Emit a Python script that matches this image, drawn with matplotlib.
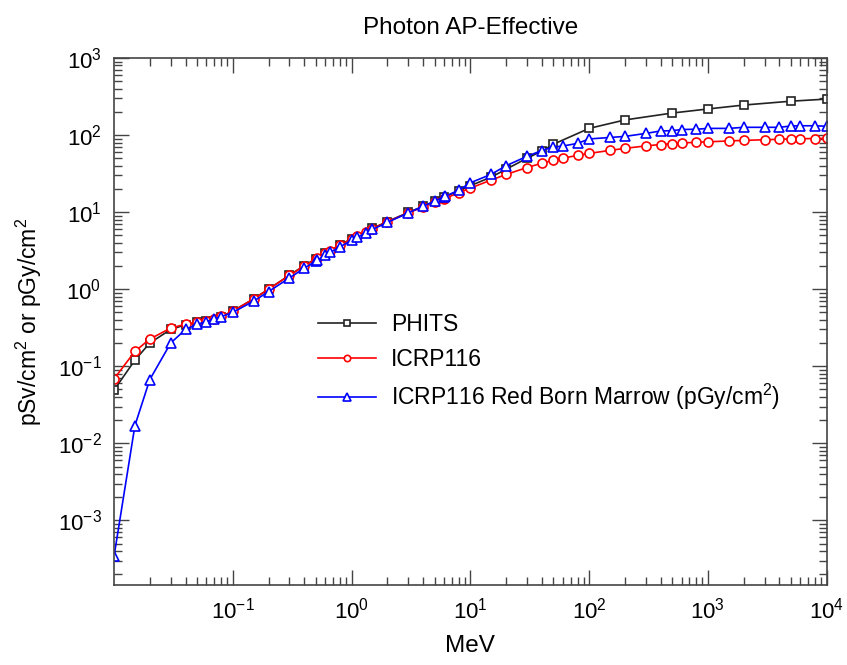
import matplotlib
matplotlib.use("Agg")
import matplotlib.pyplot as plt
from matplotlib.ticker import LogLocator, NullFormatter

plt.rcParams['font.family'] = ['Liberation Sans', 'DejaVu Sans']
plt.rcParams['mathtext.fontset'] = 'custom'
plt.rcParams['mathtext.rm'] = 'Liberation Sans'

# ICRP116 energy grid (MeV)
icrp_e = [0.01, 0.015, 0.02, 0.03, 0.04, 0.05, 0.06, 0.07, 0.08, 0.1,
          0.15, 0.2, 0.3, 0.4, 0.5, 0.511, 0.6, 0.662, 0.8, 1.0,
          1.117, 1.33, 1.5, 2.0, 3.0, 4.0, 5.0, 6.0, 6.129, 8.0,
          10, 15, 20, 30, 40, 50, 60, 80, 100, 150,
          200, 300, 400, 500, 600, 800, 1000, 1500, 2000, 3000,
          4000, 5000, 6000, 8000, 10000]

icrp_eff = [0.0685, 0.156, 0.225, 0.313, 0.351, 0.370, 0.390, 0.413, 0.444, 0.519,
            0.748, 1.00, 1.51, 2.00, 2.47, 2.52, 2.91, 3.17, 3.73, 4.49,
            4.90, 5.59, 6.12, 7.48, 9.75, 11.7, 13.4, 15.0, 15.1, 17.8,
            20.5, 26.1, 30.8, 37.9, 43.1, 47.1, 50.1, 54.5, 57.8, 63.2,
            67.2, 72.3, 75.4, 77.5, 78.9, 80.5, 81.7, 83.8, 85.2, 86.9,
            88.1, 88.9, 89.5, 90.2, 90.7]

icrp_rbm = [3.4e-4, 0.017, 0.067, 0.20, 0.30, 0.35, 0.38, 0.41, 0.44, 0.50,
            0.70, 0.93, 1.40, 1.87, 2.32, 2.37, 2.74, 3.00, 3.55, 4.30,
            4.70, 5.40, 5.95, 7.35, 9.75, 11.9, 13.9, 15.8, 16.0, 19.3,
            24.0, 31.0, 40.0, 53.0, 63.0, 70.0, 72.0, 78.0, 89.0, 93.0,
            96.0, 105, 113, 114, 118, 119, 122, 122, 126, 126,
            126, 131, 132, 132, 130]

phits_e = [0.01, 0.015, 0.02, 0.03, 0.04, 0.05, 0.06, 0.08, 0.1, 0.15,
           0.2, 0.3, 0.4, 0.5, 0.6, 0.8, 1.0, 1.5, 2.0, 3.0,
           4.0, 5.0, 6.0, 8.0, 10, 15, 20, 30, 40, 50,
           100, 200, 500, 1000, 2000, 5000, 10000]

phits_eff = [0.049, 0.12, 0.20, 0.30, 0.345, 0.37, 0.39, 0.44, 0.52, 0.75,
             1.00, 1.52, 2.02, 2.48, 2.92, 3.75, 4.52, 6.15, 7.55, 9.9,
             11.9, 13.8, 15.6, 18.9, 22.0, 28.5, 36.0, 50.0, 62.0, 76.0,
             122, 157, 193, 218, 245, 275, 293]

fig = plt.figure(figsize=(8.47, 6.65), dpi=100)
ax = fig.add_axes([0.1346, 0.1203, 0.8414, 0.7925])

ax.plot(phits_e, phits_eff, color='#222222', lw=1.2, marker='s', ms=6,
        mfc='white', mew=1.2, label='PHITS')
ax.plot(icrp_e, icrp_eff, color='red', lw=1.2, marker='o', ms=6.5,
        mfc='white', mew=1.2, label='ICRP116')
ax.plot(icrp_e, icrp_rbm, color='blue', lw=1.2, marker='^', ms=7.5,
        mfc='white', mew=1.2, label='ICRP116 Red Born Marrow (pGy/cm$^2$)')

ax.set_xscale('log')
ax.set_yscale('log')
ax.set_xlim(0.01, 1e4)
ax.set_ylim(1.45e-4, 1e3)
ax.set_xticks([0.1, 1, 10, 100, 1000, 10000])
ax.set_yticks([1e-3, 1e-2, 1e-1, 1, 10, 100, 1000])
ax.xaxis.set_minor_locator(LogLocator(base=10, subs=range(2, 10), numticks=20))
ax.yaxis.set_minor_locator(LogLocator(base=10, subs=range(2, 10), numticks=20))
ax.xaxis.set_minor_formatter(NullFormatter())
ax.yaxis.set_minor_formatter(NullFormatter())

ax.tick_params(which='both', direction='in', top=True, right=True,
               labelsize=16, color='#444444')
ax.tick_params(which='major', length=11, width=1, pad=9)
ax.tick_params(which='minor', length=6, width=1)
for s in ax.spines.values():
    s.set_color('#444444')
    s.set_linewidth(1.2)

ax.set_xlabel('MeV', fontsize=17.5, labelpad=8)
ax.set_ylabel('pSv/cm$^2$ or pGy/cm$^2$', fontsize=16.5, labelpad=10)
ax.set_title('Photon AP-Effective', fontsize=17.5, pad=17)

ax.legend(loc='upper left', bbox_to_anchor=(0.258, 0.555), frameon=False,
          fontsize=16.5, handlelength=2.5, handletextpad=0.65,
          labelspacing=0.5, markerscale=0.7)

fig.savefig('out.png', dpi=100)
